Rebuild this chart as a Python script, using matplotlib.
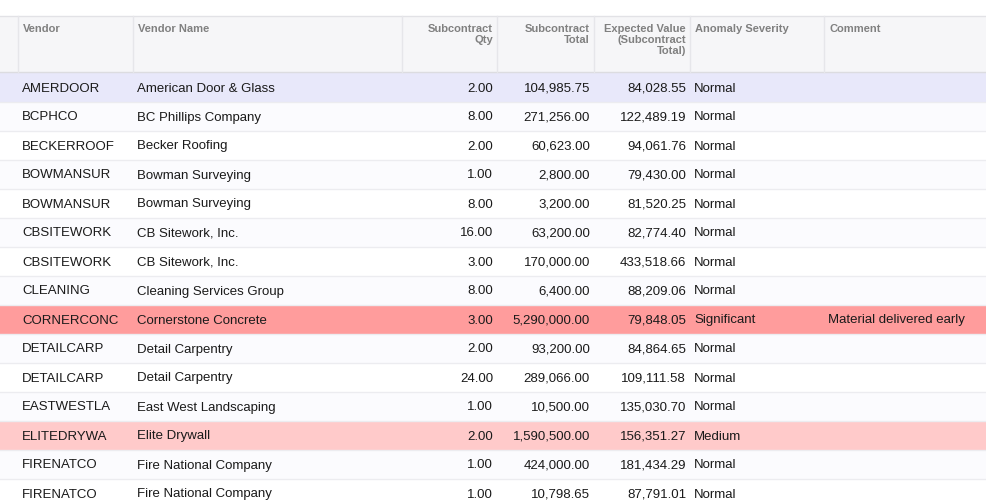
import matplotlib
matplotlib.use("Agg")
import matplotlib.pyplot as plt
from matplotlib.patches import Rectangle

vendors = ["AMERDOOR","BCPHCO","BECKERROOF","BOWMANSUR","BOWMANSUR","CBSITEWORK","CBSITEWORK","CLEANING","CORNERCONC","DETAILCARP","DETAILCARP","EASTWESTLA","ELITEDRYWA","FIRENATCO","FIRENATCO"]
names = ["American Door & Glass","BC Phillips Company","Becker Roofing","Bowman Surveying","Bowman Surveying","CB Sitework, Inc.","CB Sitework, Inc.","Cleaning Services Group","Cornerstone Concrete","Detail Carpentry","Detail Carpentry","East West Landscaping","Elite Drywall","Fire National Company","Fire National Company"]
qty = [2,8,2,1,8,16,3,8,3,2,24,1,2,1,1]
total = [104985.75,271256.00,60623.00,2800.00,3200.00,63200.00,170000.00,6400.00,5290000.00,93200.00,289066.00,10500.00,1590500.00,424000.00,10798.65]
expected = [84028.55,122489.19,94061.76,79430.00,81520.25,82774.40,433518.66,88209.06,79848.05,84864.65,109111.58,135030.70,156351.27,181434.29,87791.01]
severity = ["Normal"]*8 + ["Significant"] + ["Normal"]*3 + ["Medium"] + ["Normal"]*2
comments = [""]*8 + ["Material delivered early"] + [""]*6
headers = ["Vendor","Vendor Name","Subcontract\nQty","Subcontract\nTotal","Expected Value\n(Subcontract\nTotal)","Anomaly Severity","Comment"]

W, H = 986, 504
fig = plt.figure(figsize=(W/100, H/100), dpi=100)
ax = fig.add_axes([0,0,1,1])
ax.set_xlim(0, W); ax.set_ylim(H, 0); ax.axis("off")

edges = [18,133,402,497,594,690,824,986]
aligns = ["left","left","right","right","right","left","left"]
hy0, hy1 = 16, 72
ax.add_patch(Rectangle((0,hy0), W, hy1-hy0, fc="#f6f6f8", ec="none"))
ax.plot([0,W],[hy0,hy0], color="#e2e2e6", lw=1)
ax.plot([0,W],[hy1,hy1], color="#dcdce0", lw=1)
for e in edges[:-1]:
    ax.plot([e,e],[hy0,hy1], color="#e6e6ea", lw=1)
for i,h in enumerate(headers):
    x = edges[i]+5 if aligns[i]=="left" else edges[i+1]-4
    ax.text(x, hy0+8, h, ha=aligns[i], va="top", fontsize=8, color="#808080",
            fontweight="bold", linespacing=1.1, family="Liberation Sans Narrow" if False else "DejaVu Sans Condensed" if False else "Liberation Sans")

rh = 29
y0 = 73
for r in range(len(vendors)):
    top = y0 + r*rh
    if severity[r]=="Significant": fc="#ff9c9c"
    elif severity[r]=="Medium": fc="#ffcaca"
    elif r==0: fc="#e8e8fa"
    else: fc="#fbfbfe" if r%2 else "#ffffff"
    ax.add_patch(Rectangle((0,top), W, rh, fc=fc, ec="none"))
    ax.plot([0,W],[top+rh,top+rh], color="#ececf0", lw=1)
    vals = [vendors[r], names[r], f"{qty[r]:,.2f}", f"{total[r]:,.2f}", f"{expected[r]:,.2f}", severity[r], comments[r]]
    for i,v in enumerate(vals):
        x = edges[i]+4 if aligns[i]=="left" else edges[i+1]-4
        ax.text(x, top+rh/2+1, v, ha=aligns[i], va="center", fontsize=9.5, color="#1a1a1a", family="Liberation Sans")

fig.savefig("out.png", dpi=100)
